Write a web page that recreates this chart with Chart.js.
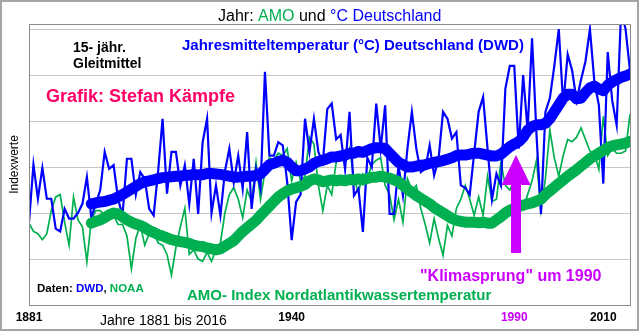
<!DOCTYPE html>
<html>
<head>
<meta charset="utf-8">
<script src="https://cdn.jsdelivr.net/npm/chart.js@4.4.1/dist/chart.umd.min.js"></script>
<style>
html,body{margin:0;padding:0;background:#ffffff;overflow:hidden;}
canvas{display:block;}
</style>
</head>
<body>
<canvas id="chart" width="640" height="332"></canvas>
<script>
// ---- categories: years ----
const years = [
  1881,1882,1883,1884,1885,1886,1887,1888,1889,1890,
  1891,1892,1893,1894,1895,1896,1897,1898,1899,1900,
  1901,1902,1903,1904,1905,1906,1907,1908,1909,1910,
  1911,1912,1913,1914,1915,1916,1917,1918,1919,1920,
  1921,1922,1923,1924,1925,1926,1927,1928,1929,1930,
  1931,1932,1933,1934,1935,1936,1937,1938,1939,1940,
  1941,1942,1943,1944,1945,1946,1947,1948,1949,1950,
  1951,1952,1953,1954,1955,1956,1957,1958,1959,1960,
  1961,1962,1963,1964,1965,1966,1967,1968,1969,1970,
  1971,1972,1973,1974,1975,1976,1977,1978,1979,1980,
  1981,1982,1983,1984,1985,1986,1987,1988,1989,1990,
  1991,1992,1993,1994,1995,1996,1997,1998,1999,2000,
  2001,2002,2003,2004,2005,2006,2007,2008,2009,2010,
  2011,2012,2013,2014,2015,2016
];

// ---- Jahresmitteltemperatur Deutschland (index values) ----
const tempDE = [
  1.80,3.05,2.31,2.98,2.31,2.31,1.66,1.60,2.09,1.88,
  1.88,2.00,2.20,2.78,1.90,2.20,2.50,3.33,2.96,3.04,
  2.31,1.95,3.18,3.18,2.40,2.89,2.74,2.09,1.95,2.90,
  4.05,2.42,3.33,3.33,2.60,3.04,2.20,3.18,1.98,3.54,
  4.05,2.00,2.60,1.95,2.90,3.40,2.67,3.25,2.53,3.76,
  2.09,2.96,2.53,5.07,3.25,3.25,3.54,3.47,2.67,1.41,
  2.24,2.40,4.05,3.33,4.05,3.33,3.10,4.26,4.38,3.60,
  3.70,2.95,4.20,2.38,2.53,1.59,3.20,3.00,4.38,3.40,
  4.34,1.98,1.98,3.04,2.38,3.40,4.20,3.40,2.89,2.96,
  3.47,2.82,3.18,4.20,4.05,3.62,3.76,2.60,2.55,2.40,
  3.30,4.20,4.52,3.40,2.30,2.85,2.60,4.70,5.20,5.20,
  3.40,5.00,3.80,5.80,3.70,1.98,4.20,4.50,5.20,6.00,
  4.35,5.45,5.10,4.45,4.90,5.30,6.00,4.85,4.35,2.64,
  5.50,4.45,3.91,6.40,6.00,5.10
];

// ---- AMO index (index values) ----
const amo = [
  1.78,1.60,1.55,1.42,1.55,2.05,2.35,2.40,1.80,1.30,
  2.35,1.85,1.70,0.94,1.85,2.05,2.05,1.95,1.85,1.95,
  1.75,1.75,1.50,0.79,1.45,1.73,1.30,1.55,1.60,1.35,
  1.30,1.10,0.65,1.25,1.70,2.10,1.10,1.20,1.00,0.95,
  1.15,0.95,1.20,1.35,2.00,2.40,2.55,2.30,1.90,2.50,
  2.25,3.10,2.30,2.90,3.20,3.15,3.30,3.25,3.40,2.70,
  3.10,2.70,2.80,3.65,3.50,2.60,2.05,2.60,2.40,3.10,
  3.30,3.10,3.40,2.75,2.45,2.85,2.75,3.05,3.15,3.20,
  2.60,2.40,1.85,2.30,1.80,2.75,2.50,2.60,2.10,1.75,
  1.35,1.88,1.45,1.08,1.73,1.50,2.10,2.30,2.60,2.30,
  1.95,2.35,1.95,2.80,2.25,2.30,3.10,2.60,2.50,2.70,
  2.40,2.10,2.40,2.70,3.15,2.05,2.75,3.80,3.20,2.80,
  3.25,3.60,3.55,3.65,3.85,3.60,3.35,3.30,2.95,4.10,
  3.25,3.40,3.30,3.30,3.35,4.15
];

// ---- 15-jähr. Gleitmittel (starts 1895) ----
const tempDE15 = [
  null,null,null,null,null,null,null,null,null,null,null,null,null,null,
  2.20,2.22,2.24,2.25,2.28,2.30,2.35,2.40,2.46,2.52,
  2.58,2.64,2.68,2.70,2.72,2.75,2.77,2.78,2.79,2.80,
  2.80,2.82,2.82,2.84,2.83,2.83,2.86,2.86,2.85,2.84,
  2.82,2.80,2.78,2.78,2.79,2.80,2.80,2.82,2.85,2.95,
  3.05,3.08,3.12,3.15,3.10,3.00,2.92,2.92,2.96,3.00,
  3.08,3.12,3.15,3.18,3.22,3.22,3.24,3.26,3.30,3.30,
  3.34,3.32,3.36,3.40,3.42,3.42,3.40,3.30,3.20,3.10,
  3.05,3.00,3.00,3.02,3.04,3.05,3.08,3.10,3.12,3.14,
  3.17,3.20,3.25,3.26,3.26,3.28,3.30,3.30,3.28,3.26,
  3.24,3.24,3.28,3.36,3.44,3.50,3.55,3.65,3.80,3.88,
  3.92,3.92,3.95,4.05,4.20,4.35,4.50,4.58,4.58,4.48,
  4.50,4.62,4.72,4.76,4.70,4.66,4.78,4.85,4.90,4.95,
  4.98,5.02
];

const amo15 = [
  null,null,null,null,null,null,null,null,null,null,null,null,null,null,
  1.78,1.82,1.85,1.90,1.96,2.00,1.98,1.92,1.85,1.80,
  1.76,1.73,1.68,1.62,1.58,1.53,1.50,1.46,1.42,1.40,
  1.38,1.36,1.34,1.30,1.28,1.27,1.24,1.22,1.20,1.22,
  1.28,1.34,1.40,1.50,1.60,1.68,1.76,1.84,1.95,2.05,
  2.15,2.25,2.35,2.42,2.48,2.52,2.55,2.58,2.62,2.70,
  2.74,2.72,2.68,2.70,2.72,2.70,2.72,2.70,2.73,2.72,
  2.74,2.72,2.75,2.78,2.78,2.80,2.78,2.76,2.72,2.68,
  2.60,2.52,2.45,2.38,2.32,2.26,2.20,2.12,2.06,2.00,
  1.94,1.88,1.84,1.82,1.80,1.80,1.80,1.79,1.80,1.78,
  1.78,1.85,1.92,2.00,2.06,2.10,2.14,2.17,2.20,2.22,
  2.26,2.30,2.40,2.48,2.56,2.64,2.72,2.80,2.87,2.94,
  3.02,3.10,3.18,3.24,3.30,3.36,3.42,3.46,3.48,3.50,
  3.52,3.56
];

// ---- tick labels / grid values ----
const xTickYears = [1881, 1940, 1990, 2010];
const yGridValues = [0, 1, 2, 3, 4, 5, 6];

const FONT = "'Liberation Sans', Arial, Helvetica, sans-serif";
const BLUE = '#0000FF', GREEN = '#00B050', MAGENTA = '#CC00FF', PINK = '#FF0066';

function toPoints(vals) { return years.map((yr, i) => ({ x: yr, y: vals[i] })); }

function drawParts(ctx, parts, x, y, font) {
  ctx.font = font;
  ctx.textAlign = 'left';
  ctx.textBaseline = 'alphabetic';
  let cx = x;
  for (const [t, c] of parts) {
    ctx.fillStyle = c;
    ctx.fillText(t, cx, y);
    cx += ctx.measureText(t).width;
  }
}

const deco = {
  id: 'deco',
  beforeDraw(chart) {
    const ctx = chart.ctx;
    ctx.save();
    ctx.fillStyle = '#ffffff';
    ctx.fillRect(0, 0, chart.width, chart.height);
    ctx.restore();
  },
  afterDatasetsDraw(chart) {
    const { ctx, chartArea: a, scales: { x, y } } = chart;
    ctx.save();
    // "Klimasprung" arrow, anchored at ~1990 on the scales
    const cx = x.getPixelForValue(1990.4);
    const yt = y.getPixelForValue(3.26), yn = y.getPixelForValue(2.61), yb = y.getPixelForValue(1.13);
    ctx.fillStyle = MAGENTA;
    ctx.beginPath();
    ctx.moveTo(cx, yt);
    ctx.lineTo(cx + 14.5, yn);
    ctx.lineTo(cx + 5, yn);
    ctx.lineTo(cx + 5, yb);
    ctx.lineTo(cx - 5, yb);
    ctx.lineTo(cx - 5, yn);
    ctx.lineTo(cx - 14.5, yn);
    ctx.closePath();
    ctx.fill();
    // plot frame
    ctx.strokeStyle = '#8C8C8C';
    ctx.lineWidth = 1;
    ctx.strokeRect(Math.round(a.left) + 0.5, Math.round(a.top) + 0.5,
                   Math.round(a.right) - Math.round(a.left), Math.round(a.bottom) - Math.round(a.top));
    ctx.restore();
  },
  afterDraw(chart) {
    const ctx = chart.ctx;
    ctx.save();
    drawParts(ctx, [['Jahr: ', '#000'], ['AMO', GREEN], [' und ', '#000'], ['°C Deutschland', BLUE]], 218, 20.5, `16px ${FONT}`);
    drawParts(ctx, [['15- jähr.', '#000']], 73, 52, `bold 14px ${FONT}`);
    drawParts(ctx, [['Gleitmittel', '#000']], 73, 68, `bold 14px ${FONT}`);
    drawParts(ctx, [['Jahresmitteltemperatur (°C) Deutschland (DWD)', BLUE]], 182, 50, `bold 15px ${FONT}`);
    drawParts(ctx, [['Grafik: Stefan Kämpfe', PINK]], 46, 101.5, `bold 18px ${FONT}`);
    drawParts(ctx, [['"Klimasprung" um 1990', MAGENTA]], 420, 280.5, `bold 16px ${FONT}`);
    drawParts(ctx, [['Daten: ', '#000'], ['DWD', BLUE], [', ', '#000'], ['NOAA', GREEN]], 37, 291.5, `bold 11.5px ${FONT}`);
    drawParts(ctx, [['AMO- Index Nordatlantikwassertemperatur', GREEN]], 187, 300, `bold 15px ${FONT}`);
    drawParts(ctx, [['Jahre 1881 bis 2016', '#000']], 100, 325, `14px ${FONT}`);
    // outer frame
    ctx.strokeStyle = '#A6A6A6';
    ctx.lineWidth = 2;
    ctx.strokeRect(1, 1, 637, 329);
    ctx.restore();
  }
};

new Chart(document.getElementById('chart'), {
  type: 'line',
  data: {
    datasets: [
      { label: '15-jähr. Gleitmittel °C Deutschland', data: toPoints(tempDE15), borderColor: BLUE,
        borderWidth: 11, borderCapStyle: 'round', borderJoinStyle: 'round', clip: 0 },
      { label: '15-jähr. Gleitmittel AMO', data: toPoints(amo15), borderColor: GREEN,
        borderWidth: 11, borderCapStyle: 'round', borderJoinStyle: 'round', clip: 0 },
      { label: 'Jahresmitteltemperatur Deutschland', data: toPoints(tempDE), borderColor: BLUE,
        borderWidth: 2.2, clip: 0 },
      { label: 'AMO', data: toPoints(amo), borderColor: GREEN, borderWidth: 1.7, clip: 0 }
    ]
  },
  options: {
    responsive: false,
    animation: false,
    devicePixelRatio: 1,
    layout: { padding: { left: 1.8, right: 10, top: 24, bottom: 2 } },
    plugins: { legend: { display: false }, tooltip: { enabled: false }, title: { display: false } },
    elements: { point: { radius: 0, hoverRadius: 0 }, line: { tension: 0, fill: false } },
    scales: {
      x: {
        type: 'linear', min: 1881, max: 2016,
        afterBuildTicks: s => { s.ticks = xTickYears.map(v => ({ value: v })); },
        grid: { display: false, drawTicks: false },
        border: { display: false },
        ticks: {
          autoSkip: false, maxRotation: 0, minRotation: 0, padding: 5.3,
          font: { family: FONT, size: 12, weight: 'bold' },
          color: c => (c.tick && c.tick.value === 1990) ? MAGENTA : '#000',
          callback: v => String(v)
        }
      },
      y: {
        min: 0, max: 6.11,
        afterBuildTicks: s => { s.ticks = yGridValues.map(v => ({ value: v })); },
        grid: { color: '#C6C6C6', lineWidth: 1, drawTicks: false },
        border: { display: false },
        ticks: { display: false },
        title: { display: true, text: 'Indexwerte', color: '#000',
                 font: { family: FONT, size: 12 }, padding: { top: 6, bottom: 6.8 } }
      }
    }
  },
  plugins: [deco]
});
</script>
</body>
</html>
